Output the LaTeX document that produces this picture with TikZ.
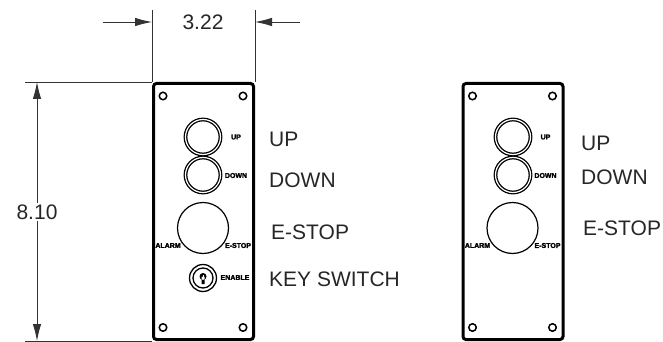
\documentclass[tikz,border=0pt]{standalone}
\usepackage{fontspec}
\setmainfont{Liberation Sans}
\newfontfamily\tagfont[UprightFont={* Bold}, FakeBold=2.5]{Liberation Sans}
\usetikzlibrary{arrows.meta}

\tikzset{
  panel/.style={draw, line width=3pt, rounded corners=3pt, minimum width=100pt, minimum height=256pt},
  hole/.style={draw, circle, line width=1.5pt, minimum size=7.5pt, inner sep=0pt},
  pushbutton/.style={draw, circle, line width=1.3pt, double=white, double distance=1.2pt, minimum size=35pt, inner sep=0pt},
  estop/.style={draw, circle, line width=1.2pt, minimum size=51pt, inner sep=0pt},
  keyring/.style={draw, circle, line width=1.3pt, minimum size=27pt, inner sep=0pt},
  keycore/.style={draw, circle, line width=1.3pt, minimum size=20pt, inner sep=0pt},
  tag/.style={font=\fontsize{7}{7}\selectfont\tagfont, inner sep=0pt},
  callout/.style={font=\fontsize{21}{23}\selectfont, anchor=west, inner sep=0pt, text=black!85},
  dimtext/.style={font=\fontsize{21}{23}\selectfont, inner sep=1pt, text=black!85},
  dimline/.style={draw=black!80, line width=0.9pt},
  dimarrow/.style={dimline, -{Latex[length=17pt,width=8.5pt]}}
}

\begin{document}
\begin{tikzpicture}[x=1pt, y=-1pt]
  \useasboundingbox (0,0) rectangle (663,342);

  % left plate
  \node[panel] (plateA) at (203.5,211.5) {};
  \node[hole] (holeA1) at (163,96) {};
  \node[hole] (holeA2) at (243,96) {};
  \node[hole] (holeA3) at (163,327.5) {};
  \node[hole] (holeA4) at (243,327.5) {};
  \node[pushbutton] (upA) at (203,137) {};
  \node[pushbutton] (downA) at (203,175) {};
  \node[estop] (estopA) at (203,228) {};
  \node[keyring] (keyA) at (203,278) {};
  \node[keycore] (coreA) at (203,278) {};
  \fill (203,276.5) circle (3.5) (201.5,276.5) rectangle (204.5,284);
  \fill[white] (202.6,274.5) rectangle (203.4,279);
  \node[tag] (tagupA) at (236,137) {UP};
  \node[tag] (tagdownA) at (236,175.5) {DOWN};
  \node[tag] (tagalarmA) at (168,245.5) {ALARM};
  \node[tag] (tagstopA) at (238,245.5) {E-STOP};
  \node[tag] (tagkeyA) at (235,277.5) {ENABLE};

  % right plate
  \node[panel] (plateB) at (513,211.5) {};
  \node[hole] (holeB1) at (472.5,96) {};
  \node[hole] (holeB2) at (552.5,96) {};
  \node[hole] (holeB3) at (472.5,327.5) {};
  \node[hole] (holeB4) at (552.5,327.5) {};
  \node[pushbutton] (upB) at (513,137) {};
  \node[pushbutton] (downB) at (513,175) {};
  \node[estop] (estopB) at (512.5,228) {};
  \node[tag] (tagupB) at (545.5,137) {UP};
  \node[tag] (tagdownB) at (545.5,175.5) {DOWN};
  \node[tag] (tagalarmB) at (477.5,245.5) {ALARM};
  \node[tag] (tagstopB) at (547.5,245.5) {E-STOP};

  % callouts
  \node[callout] (nameupA) at (269,139) {UP};
  \node[callout] (namedownA) at (269,180) {DOWN};
  \node[callout] (namestopA) at (271,232) {E-STOP};
  \node[callout] (namekeyA) at (269,279) {KEY SWITCH};
  \node[callout] (nameupB) at (581,143) {UP};
  \node[callout] (namedownB) at (581,177) {DOWN};
  \node[callout] (namestopB) at (583,228) {E-STOP};

  % width dimension
  \coordinate (extL) at (152,10);
  \coordinate (extR) at (255,10);
  \coordinate (tailL) at (103,22);
  \coordinate (headL) at (152,22);
  \coordinate (tailR) at (300,22);
  \coordinate (headR) at (255,22);
  \draw[dimline] (extL) -- (plateA.north west);
  \draw[dimline] (extR) -- (plateA.north east);
  \draw[dimarrow] (tailL) -- (headL);
  \draw[dimarrow] (tailR) -- (headR);
  \node[dimtext] (widthval) at (203,22) {3.22};

  % height dimension
  \coordinate (extT) at (25,82);
  \coordinate (extB) at (25,341);
  \coordinate (headT) at (37,82);
  \coordinate (headB) at (37,341);
  \draw[dimline] (extT) -- (plateA.north west);
  \draw[dimline] (extB) -- (plateA.south west);
  \node[dimtext] (heightval) at (37,212) {8.10};
  \draw[dimarrow] (heightval.north) -- (headT);
  \draw[dimarrow] (heightval.south) -- (headB);
\end{tikzpicture}
\end{document}
